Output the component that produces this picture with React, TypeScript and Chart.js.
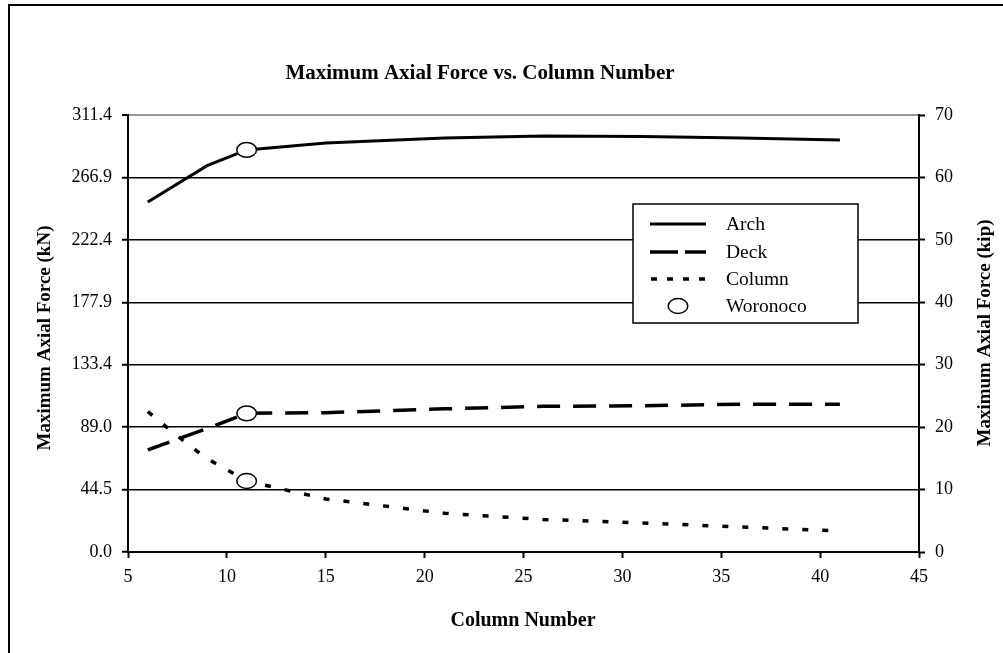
import React, { useEffect, useRef } from "react";
import { Chart, registerables } from "chart.js";

Chart.register(...registerables);

// Data (kN on left axis; right axis is the same force in kip)
const archColumns = [6, 9, 11, 15, 21, 26, 31, 36, 41];
const archForce = [249.4, 275.3, 286.5, 291.4, 295.0, 296.4, 296.0, 295.0, 293.6];
const deckColumns = [6, 9, 11, 15, 21, 26, 31, 36, 41];
const deckForce = [72.7, 88.0, 98.8, 99.3, 102.0, 103.8, 104.2, 105.3, 105.3];
const columnColumns = [6, 8, 9, 11, 15, 21, 26, 31, 36, 41];
const columnForce = [100.0, 77.0, 66.6, 50.6, 37.8, 27.6, 23.2, 20.7, 17.8, 15.0];
const woronocoColumns = [11, 11, 11];
const woronocoForce = [286.5, 98.8, 50.6];

const leftTickLabels = ["0.0", "44.5", "89.0", "133.4", "177.9", "222.4", "266.9", "311.4"];
const leftMax = 311.4;
const rightTickValues = [0, 10, 20, 30, 40, 50, 60, 70];
const xTickValues = [5, 10, 15, 20, 25, 30, 35, 40, 45];

const titleText = "Maximum Axial Force vs. Column Number";
const xTitle = "Column Number";
const leftTitle = "Maximum Axial Force (kN)";
const rightTitle = "Maximum Axial Force (kip)";
const legendLabels = ["Arch", "Deck", "Column", "Woronoco"];

const SERIF = "'Liberation Serif', 'Times New Roman', serif";

function drawEllipse(g: CanvasRenderingContext2D, cx: number, cy: number) {
  g.save();
  g.setLineDash([]);
  g.beginPath();
  g.ellipse(cx, cy, 9.8, 7.4, 0, 0, Math.PI * 2);
  g.fillStyle = "#ffffff";
  g.fill();
  g.lineWidth = 1.5;
  g.strokeStyle = "#000000";
  g.stroke();
  g.restore();
}

const toXY = (xs: number[], ys: number[]) => xs.map((x, i) => ({ x, y: ys[i] }));

export default function App() {
  const ref = useRef<HTMLCanvasElement | null>(null);

  useEffect(() => {
    if (!ref.current) return;

    const decor = {
      id: "decor",
      afterDatasetsDraw(chart: any) {
        // Woronoco markers, placed at the points computed by the chart's scales
        const ctx = chart.ctx as CanvasRenderingContext2D;
        const meta = chart.getDatasetMeta(0);
        meta.data.forEach((pt: any) => drawEllipse(ctx, pt.x, pt.y));
      },
      afterDraw(chart: any) {
        const ctx = chart.ctx as CanvasRenderingContext2D;
        ctx.save();
        // outer frame (left & top visible)
        ctx.strokeStyle = "#000";
        ctx.lineWidth = 2;
        ctx.beginPath();
        ctx.moveTo(9, 653);
        ctx.lineTo(9, 5);
        ctx.lineTo(1003, 5);
        ctx.stroke();

        ctx.fillStyle = "#000";
        // title
        ctx.font = `bold 21px ${SERIF}`;
        ctx.textAlign = "center";
        ctx.textBaseline = "middle";
        ctx.fillText(titleText, 480, 74);

        // axis titles
        ctx.font = `bold 20px ${SERIF}`;
        ctx.fillText(xTitle, 523, 621);
        ctx.font = `bold 19px ${SERIF}`;
        ctx.save();
        ctx.translate(45, 338);
        ctx.rotate(-Math.PI / 2);
        ctx.fillText(leftTitle, 0, 0);
        ctx.restore();
        ctx.save();
        ctx.translate(985, 333);
        ctx.rotate(-Math.PI / 2);
        ctx.fillText(rightTitle, 0, 0);
        ctx.restore();

        // legend box
        const bx = 633, by = 204, bw = 225, bh = 119;
        ctx.fillStyle = "#fff";
        ctx.fillRect(bx, by, bw, bh);
        ctx.lineWidth = 1.5;
        ctx.strokeStyle = "#000";
        ctx.strokeRect(bx, by, bw, bh);

        const rows = [224, 252, 279, 306];
        ctx.lineWidth = 3;
        ctx.lineCap = "butt";
        // Arch
        ctx.setLineDash([]);
        ctx.beginPath();
        ctx.moveTo(650, rows[0]);
        ctx.lineTo(706, rows[0]);
        ctx.stroke();
        // Deck
        ctx.lineWidth = 3.5;
        ctx.setLineDash([28, 7]);
        ctx.beginPath();
        ctx.moveTo(650, rows[1]);
        ctx.lineTo(706, rows[1]);
        ctx.stroke();
        // Column
        ctx.setLineDash([6, 10]);
        ctx.beginPath();
        ctx.moveTo(651, rows[2]);
        ctx.lineTo(709, rows[2]);
        ctx.stroke();
        ctx.setLineDash([]);
        // Woronoco
        drawEllipse(ctx, 678, rows[3]);

        ctx.fillStyle = "#000";
        ctx.font = `19.5px ${SERIF}`;
        ctx.textAlign = "left";
        ctx.textBaseline = "middle";
        legendLabels.forEach((t, i) => ctx.fillText(t, 726, rows[i] + 1));
        ctx.restore();
      },
    };

    const chart = new Chart(ref.current, {
      type: "line",
      data: {
        datasets: [
          {
            label: "Woronoco",
            data: toXY(woronocoColumns, woronocoForce),
            showLine: false,
            pointRadius: 0,
            borderColor: "#000",
            backgroundColor: "#fff",
            yAxisID: "y",
            order: 0,
          },
          {
            label: "Arch",
            data: toXY(archColumns, archForce),
            borderColor: "#000",
            borderWidth: 3,
            pointRadius: 0,
            tension: 0,
            yAxisID: "y",
            order: 1,
          },
          {
            label: "Deck",
            data: toXY(deckColumns, deckForce),
            borderColor: "#000",
            borderWidth: 3.5,
            borderDash: [23, 13],
            borderCapStyle: "butt",
            pointRadius: 0,
            tension: 0,
            yAxisID: "y",
            order: 1,
          },
          {
            label: "Column",
            data: toXY(columnColumns, columnForce),
            borderColor: "#000",
            borderWidth: 3.5,
            borderDash: [6, 14],
            borderCapStyle: "butt",
            pointRadius: 0,
            tension: 0,
            yAxisID: "y",
            order: 1,
          },
        ],
      },
      options: {
        animation: false,
        responsive: false,
        maintainAspectRatio: false,
        layout: { padding: { top: 115, left: 0, right: 0, bottom: 0 } },
        plugins: { legend: { display: false }, tooltip: { enabled: false }, title: { display: false } },
        scales: {
          x: {
            type: "linear",
            min: 5,
            max: 45,
            afterBuildTicks: (s: any) => {
              s.ticks = xTickValues.map((v) => ({ value: v }));
            },
            afterFit: (s: any) => {
              s.height = 101;
            },
            ticks: {
              color: "#000",
              font: { family: SERIF, size: 18 },
              padding: 8,
              maxRotation: 0,
              autoSkip: false,
            },
            grid: { drawOnChartArea: false, drawTicks: true, tickLength: 6, tickColor: "#000", tickWidth: 2 },
            border: { display: true, color: "#000", width: 2 },
          },
          y: {
            type: "linear",
            position: "left",
            min: 0,
            max: leftMax,
            afterBuildTicks: (s: any) => {
              s.ticks = leftTickLabels.map((_, i) => ({ value: (leftMax * i) / (leftTickLabels.length - 1) }));
            },
            afterFit: (s: any) => {
              s.width = 128;
            },
            ticks: {
              color: "#000",
              font: { family: SERIF, size: 18 },
              padding: 10,
              autoSkip: false,
              callback: (_v: any, i: number) => leftTickLabels[i],
            },
            grid: {
              drawTicks: true,
              tickLength: 6,
              tickColor: "#000",
              tickWidth: 2,
              lineWidth: (c: any) => (c.index === leftTickLabels.length - 1 ? 2 : 1.5),
              color: (c: any) => (c.index === leftTickLabels.length - 1 ? "#999" : "#000"),
            },
            border: { display: true, color: "#000", width: 2 },
          },
          y2: {
            type: "linear",
            position: "right",
            min: 0,
            max: 70,
            afterBuildTicks: (s: any) => {
              s.ticks = rightTickValues.map((v) => ({ value: v }));
            },
            afterFit: (s: any) => {
              s.width = 84;
            },
            ticks: {
              color: "#000",
              font: { family: SERIF, size: 18 },
              padding: 10,
              autoSkip: false,
            },
            grid: { drawOnChartArea: false, drawTicks: true, tickLength: 6, tickColor: "#000", tickWidth: 2 },
            border: { display: true, color: "#000", width: 2 },
          },
        },
      } as any,
      plugins: [decor],
    });

    return () => chart.destroy();
  }, []);

  return (
    <div style={{ position: "absolute", left: 0, top: 0, width: 1003, height: 653, background: "#fff" }}>
      <canvas ref={ref} width={1003} height={653} style={{ display: "block", width: 1003, height: 653 }} />
    </div>
  );
}
